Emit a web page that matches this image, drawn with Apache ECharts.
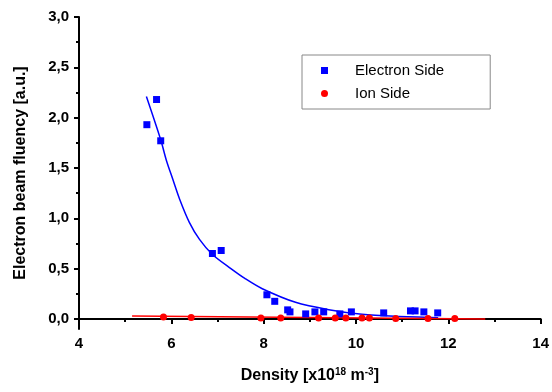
<!DOCTYPE html>
<html><head><meta charset="utf-8">
<script src="https://cdn.jsdelivr.net/npm/echarts@6/dist/echarts.min.js"></script>
<style>html,body{margin:0;padding:0;background:#fff}#c{width:552px;height:392px}</style>
</head><body><div id="c"></div>
<script>
// Electron side measurements [density, fluency]
const electronX = [5.47, 5.68, 5.77, 6.89, 7.08, 8.07, 8.24, 8.52, 8.57, 8.91, 9.11, 9.30, 9.65, 9.90, 10.60, 11.18, 11.28, 11.47, 11.77];
const electronY = [1.93, 2.18, 1.77, 0.65, 0.68, 0.24, 0.175, 0.09, 0.07, 0.05, 0.07, 0.07, 0.05, 0.07, 0.06, 0.08, 0.08, 0.07, 0.06];
// Ion side measurements
const ionX = [5.83, 6.43, 7.94, 8.37, 9.19, 9.55, 9.78, 10.13, 10.29, 10.86, 11.56, 12.14];
const ionY = [0.02, 0.015, 0.01, 0.01, 0.01, 0.01, 0.01, 0.01, 0.01, 0.005, 0.005, 0.005];
// Fit curves
const electronFitX = [5.46, 5.77, 5.89, 6.03, 6.18, 6.39, 6.61, 6.89, 7.29, 7.6, 7.97, 8.69, 9.41, 10.13, 10.85, 11.78];
const electronFitY = [2.21, 1.78, 1.58, 1.39, 1.19, 0.96, 0.79, 0.64, 0.50, 0.40, 0.30, 0.165, 0.092, 0.046, 0.026, 0.013];
const ionFitX = [5.15, 12.8];
const ionFitY = [0.03, 0.0];
// Ticks
const yMajorTicks = [0, 0.5, 1.0, 1.5, 2.0, 2.5, 3.0];
const yMinorTicks = [0.25, 0.75, 1.25, 1.75, 2.25, 2.75];
const seriesNames = ['Electron Side', 'Ion Side'];

const zip = (a, b) => a.map((v, i) => [v, b[i]]);
const font = '"Liberation Sans", Arial, sans-serif';
const chart = echarts.init(document.getElementById('c'));
chart.setOption({
  animation: false,
  grid: {left: 79, right: 9, top: 17, bottom: 63},
  legend: {
    left: 302, top: 55, orient: 'vertical',
    data: [{name: seriesNames[0], icon: 'rect'}, {name: seriesNames[1], icon: 'circle'}],
    itemWidth: 7, itemHeight: 7, itemGap: 8,
    borderColor: '#888', borderWidth: 1, padding: [8, 46, 8, 19],
    textStyle: {fontFamily: font, fontSize: 15, color: '#000', padding: [0, 0, 0, 22]}
  },
  xAxis: {
    type: 'value', min: 4, max: 14, interval: 2,
    name: '{b|Density [x10}{s|18}{b| m}{s|-3}{b|]}', nameLocation: 'middle', nameGap: 38,
    nameTextStyle: {rich: {
      b: {fontFamily: font, fontSize: 16, fontWeight: 'bold', color: '#000'},
      s: {fontFamily: font, fontSize: 10, fontWeight: 'bold', color: '#000', verticalAlign: 'top', padding: [0, 0, 8, 0]}
    }},
    axisLine: {lineStyle: {color: '#000', width: 2}},
    axisTick: {length: 5, lineStyle: {color: '#000', width: 2}},
    minorTick: {show: true, splitNumber: 2, length: 3, lineStyle: {color: '#000', width: 2}},
    axisLabel: {fontFamily: font, fontSize: 15, fontWeight: 'bold', color: '#000', margin: 7},
    splitLine: {show: false}
  },
  yAxis: [{
    type: 'value', min: -0.1, max: 3.0,
    name: 'Electron beam fluency [a.u.]', nameLocation: 'middle', nameGap: 50,
    nameTextStyle: {fontFamily: font, fontSize: 16, fontWeight: 'bold', color: '#000'},
    axisLine: {show: true, lineStyle: {color: '#000', width: 2}},
    axisTick: {show: true, length: 5, customValues: yMajorTicks, lineStyle: {color: '#000', width: 2}},
    axisLabel: {customValues: yMajorTicks, fontFamily: font, fontSize: 15, fontWeight: 'bold', color: '#000', margin: 10,
      formatter: v => v.toFixed(1).replace('.', ',')},
    splitLine: {show: false}
  }, {
    type: 'value', min: -0.1, max: 3.0, position: 'left',
    axisLine: {show: false},
    axisTick: {show: true, length: 3, customValues: yMinorTicks, lineStyle: {color: '#000', width: 2}},
    axisLabel: {show: false},
    splitLine: {show: false}
  }],
  series: [
    {name: 'efit', type: 'line', data: zip(electronFitX, electronFitY), smooth: 0.3, showSymbol: false,
      lineStyle: {color: '#0000ff', width: 1.5}, z: 1, silent: true},
    {name: 'ifit', type: 'line', data: zip(ionFitX, ionFitY), showSymbol: false,
      lineStyle: {color: '#ff0000', width: 1.5}, z: 1, silent: true},
    {name: seriesNames[0], type: 'scatter', data: zip(electronX, electronY), symbol: 'rect', symbolSize: 7,
      itemStyle: {color: '#0000ff', opacity: 1}, z: 3},
    {name: seriesNames[1], type: 'scatter', data: zip(ionX, ionY), symbol: 'circle', symbolSize: 7,
      itemStyle: {color: '#ff0000', opacity: 1}, z: 3}
  ]
});
</script></body></html>
